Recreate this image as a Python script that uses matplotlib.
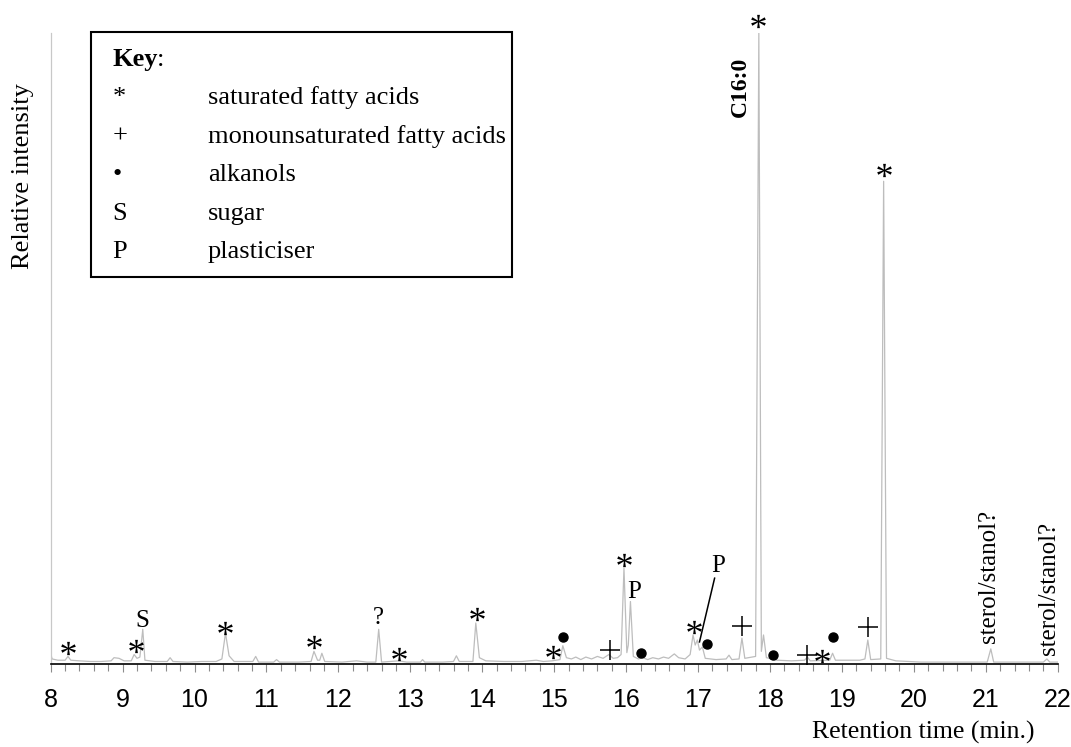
import numpy as np
import matplotlib.pyplot as plt
from matplotlib.ticker import MultipleLocator
from matplotlib.textpath import TextPath
from matplotlib.path import Path
from matplotlib.font_manager import FontProperties
from matplotlib.patches import Rectangle

# Chromatogram trace (retention time in min., relative intensity %)
rt = [8.00, 8.02, 8.10, 8.20, 8.24, 8.28, 8.40, 8.55, 8.70, 8.84, 8.88, 8.95, 9.02,
      9.12, 9.16, 9.20, 9.24, 9.28, 9.31, 9.45, 9.62, 9.66, 9.70, 9.90, 10.10, 10.30,
      10.38, 10.43, 10.48, 10.55, 10.81, 10.85, 10.89, 11.10, 11.14, 11.18, 11.45,
      11.62, 11.66, 11.71, 11.74, 11.77, 11.81, 12.05, 12.25, 12.40, 12.52, 12.56,
      12.60, 12.84, 12.95, 13.14, 13.17, 13.20, 13.45, 13.60, 13.64, 13.68, 13.87,
      13.91, 13.96, 14.05, 14.30, 14.55, 14.75, 14.85, 14.97, 15.08, 15.12, 15.17,
      15.24, 15.30, 15.37, 15.44, 15.52, 15.60, 15.68, 15.76, 15.82, 15.88, 15.93,
      15.97, 16.01, 16.03, 16.06, 16.10, 16.17, 16.23, 16.30, 16.37, 16.45, 16.52,
      16.59, 16.67, 16.73, 16.82, 16.89, 16.93, 16.96, 16.99, 17.02, 17.06, 17.10,
      17.25, 17.39, 17.43, 17.47, 17.57, 17.61, 17.65, 17.80, 17.845, 17.88, 17.91,
      17.95, 18.10, 18.30, 18.48, 18.52, 18.56, 18.83, 18.87, 18.91, 19.25, 19.32,
      19.36, 19.40, 19.54, 19.58, 19.62, 19.75, 20.10, 20.60, 21.02, 21.07, 21.11,
      21.50, 21.80, 21.85, 21.89, 22.00]
intensity = [1.6, 0.8, 0.6, 0.6, 1.2, 0.6, 0.5, 0.4, 0.4, 0.5, 1.0, 0.9, 0.5,
             0.5, 1.5, 0.9, 1.1, 5.5, 0.6, 0.4, 0.4, 1.0, 0.4, 0.3, 0.4, 0.4,
             0.8, 4.9, 1.3, 0.4, 0.4, 1.2, 0.3, 0.3, 0.7, 0.3, 0.3,
             0.4, 2.0, 0.6, 0.6, 1.7, 0.4, 0.3, 0.5, 0.3, 0.3, 5.5,
             0.3, 0.5, 0.3, 0.3, 0.7, 0.3, 0.3, 0.4, 1.3, 0.4, 0.4,
             6.5, 1.0, 0.5, 0.4, 0.4, 0.6, 0.4, 0.5, 0.7, 2.9, 1.0,
             0.8, 1.1, 0.7, 1.1, 0.8, 1.2, 0.9, 1.5, 0.9, 1.0, 1.5,
             15.2, 1.8, 3.0, 9.9, 1.2, 0.8, 1.0, 0.7, 1.0, 0.8, 1.1,
             0.9, 1.6, 1.0, 0.8, 1.5, 4.6, 3.0, 3.8, 2.2, 2.7, 0.9,
             0.7, 0.8, 1.4, 0.7, 0.8, 4.1, 0.9, 1.2, 100.0, 2.0, 4.6,
             1.0, 0.6, 0.5, 0.6, 1.1, 0.5, 0.6, 1.7, 0.6, 0.6, 0.8,
             3.8, 0.7, 0.8, 76.5, 0.9, 0.5, 0.3, 0.3, 0.3, 2.4, 0.3,
             0.3, 0.3, 0.8, 0.3, 0.3]

# Peak annotations
sat_rt = [8.24, 9.18, 10.43, 11.66, 12.84, 13.92, 14.99, 15.97, 16.95, 18.73, 17.84, 19.58]
sat_y = [2.5, 2.85, 5.65, 3.55, 1.6, 7.9, 1.95, 16.5, 5.8, 1.3, 101.9, 78.3]
mono_rt = [15.775, 17.61, 18.51, 19.36]
mono_y = [2.2, 6.0, 1.45, 5.9]
alk_rt = [15.12, 16.21, 17.12, 18.04, 18.87]
alk_y = [4.2, 1.7, 3.2, 1.45, 4.2]
letter_labels = ["S", "?", "P", "P"]
letter_rt = [9.28, 12.56, 16.11, 17.28]
letter_y = [5.8, 6.3, 10.4, 14.6]
sterol_rt = [21.05, 21.88]
sterol_y = [3.3, 1.4]

key_symbols = ["*", "+", "\u2022", "S", "P"]
key_names = ["saturated fatty acids", "monounsaturated fatty acids", "alkanols", "sugar", "plasticiser"]

serif = "Liberation Serif"
W, H = 1071, 747
fig = plt.figure(figsize=(W / 100, H / 100), dpi=100)
ax = fig.add_axes([50.7 / W, (H - 664) / H, (1057.7 - 50.7) / W, (664 - 33) / H])

ax.plot(rt, intensity, color="#bdbdbd", lw=0.9)
ax.set_xlim(8, 22)
ax.set_ylim(0, 100)

for s in ["top", "right"]:
    ax.spines[s].set_visible(False)
ax.spines["left"].set_color("#c8c8c8")
ax.spines["left"].set_linewidth(0.9)
ax.spines["bottom"].set_linewidth(1.2)
ax.set_yticks([])
ax.xaxis.set_major_locator(MultipleLocator(1))
ax.xaxis.set_minor_locator(MultipleLocator(0.2))
ax.tick_params(axis="x", which="major", length=6, width=0.8, color="#8c8c8c", pad=11,
               labelsize=18)
ax.tick_params(axis="x", which="minor", length=4.8, width=0.8, color="#8c8c8c")
for lab in ax.get_xticklabels():
    lab.set_fontfamily("Liberation Sans")

# asterisk marker built from the serif glyph
tp = TextPath((0, 0), "*", prop=FontProperties(family=serif), size=1)
codes = tp.codes
verts = tp.vertices.copy()
keep = codes != Path.CLOSEPOLY
cx = (verts[keep, 0].min() + verts[keep, 0].max()) / 2
cy = (verts[keep, 1].min() + verts[keep, 1].max()) / 2
verts = verts - [cx, cy]
verts[~keep] = 0.0
star = Path(verts, codes)

ax.plot(sat_rt, sat_y, ls="", marker=star, ms=10.5, mfc="k", mec="k", mew=0, clip_on=False)
ax.plot(mono_rt, mono_y, ls="", marker="+", ms=14.5, mec="k", mew=1.1, clip_on=False)
ax.plot(alk_rt, alk_y, ls="", marker="o", ms=6.5, mfc="k", mec="k", clip_on=False)

for lab, x, y in zip(letter_labels, letter_rt, letter_y):
    ax.text(x, y, lab, ha="center", va="baseline", fontsize=18, family=serif)
ax.plot([17.23, 17.02], [13.6, 3.5], color="k", lw=1.1)

for x, y in zip(sterol_rt, sterol_y):
    ax.text(x, y, "sterol/stanol?", rotation=90, ha="center", va="bottom",
            fontsize=18, family=serif, clip_on=False)

ax.text(17.59, 91.4, "C16:0", rotation=90, ha="center", va="center",
        fontsize=17, family=serif, fontweight="bold")

fig.text(1035 / W, 1 - 739 / H, "Retention time (min.)", ha="right", va="baseline",
         fontsize=18.5, family=serif)
fig.text(23 / W, 1 - 176 / H, "Relative intensity", rotation=90, ha="center", va="center",
         fontsize=19, family=serif)

# key box
fig.patches.append(Rectangle((90.7 / W, 1 - 276.7 / H), (512 - 90.7) / W, (276.7 - 31.7) / H,
                             transform=fig.transFigure, fill=False, ec="k", lw=1.5))
fig.text(112.5 / W, 1 - 66 / H, "Key", fontsize=19, family=serif, fontweight="bold",
         va="baseline")
fig.text(157 / W, 1 - 66 / H, ":", fontsize=19, family=serif, va="baseline")
for i, (sym, name) in enumerate(zip(key_symbols, key_names)):
    yb = 1 - (104.4 + 38.4 * i) / H
    fig.text(112.5 / W, yb, sym, fontsize=19, family=serif, va="baseline")
    fig.text(208 / W, yb, name, fontsize=19, family=serif, va="baseline")

fig.savefig("out.png", dpi=100)
